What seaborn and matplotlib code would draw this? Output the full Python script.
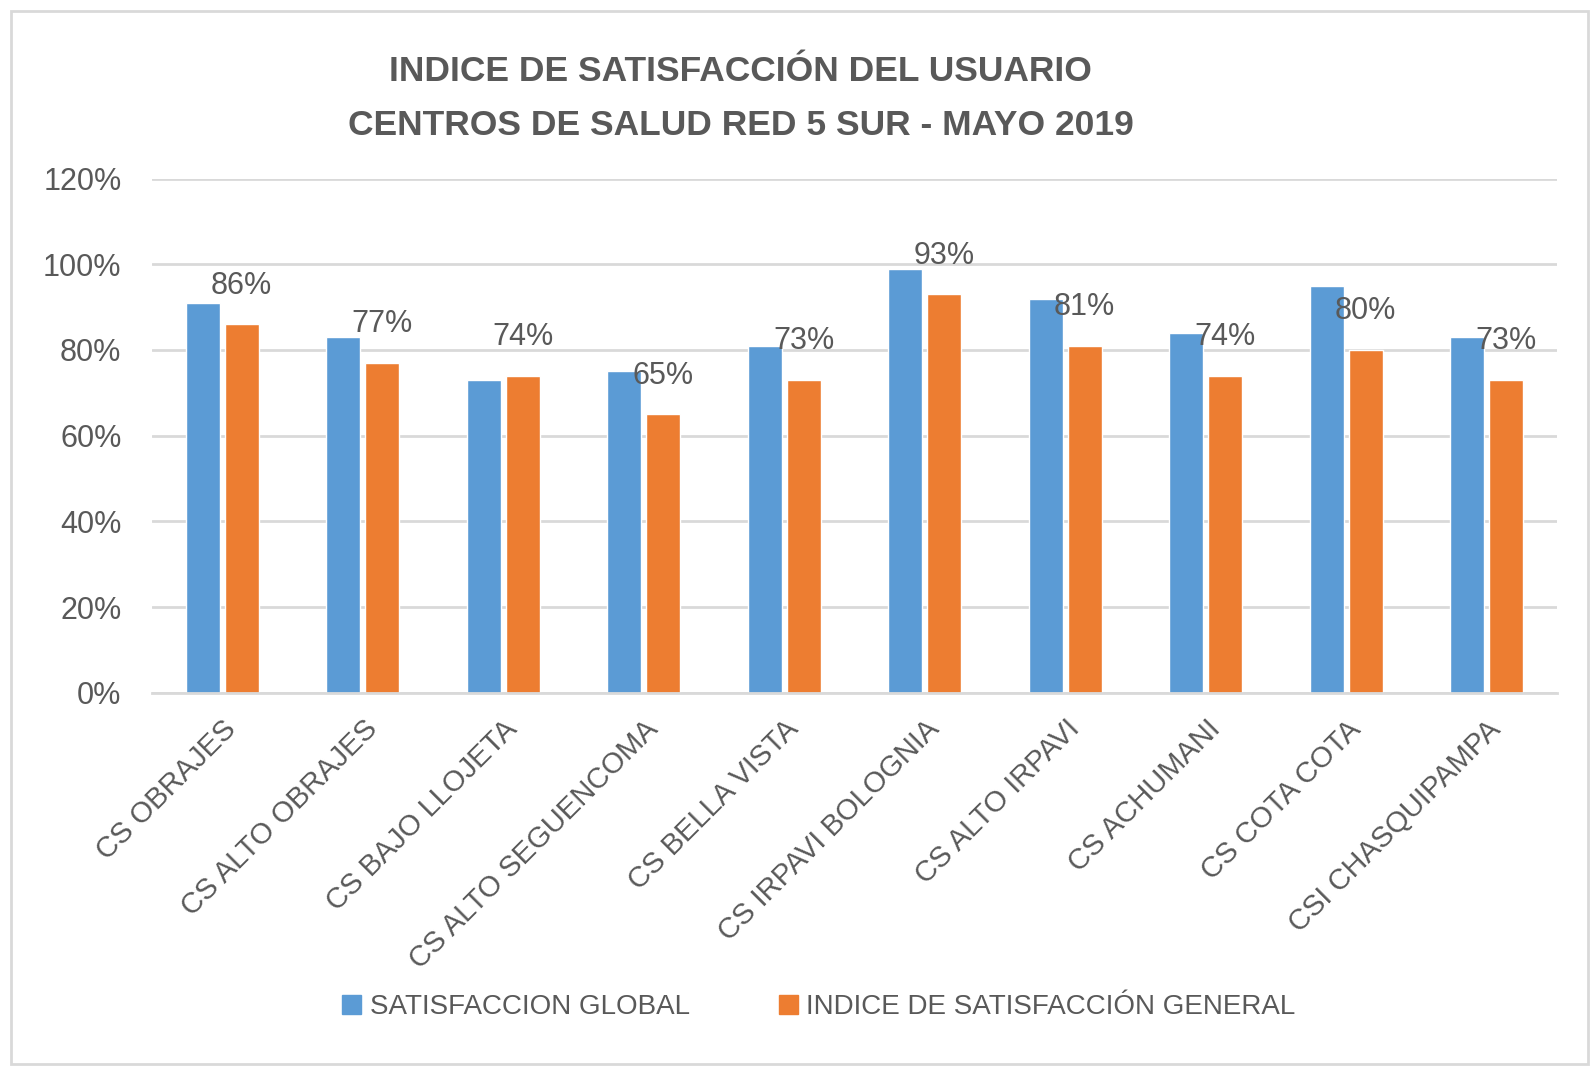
import pandas as pd
import seaborn as sns
import matplotlib.pyplot as plt
from matplotlib.patches import Rectangle
from matplotlib.ticker import PercentFormatter

# Values
centros = ['CS OBRAJES', 'CS ALTO OBRAJES', 'CS BAJO LLOJETA', 'CS ALTO SEGUENCOMA',
           'CS BELLA VISTA', 'CS IRPAVI BOLOGNIA', 'CS ALTO IRPAVI', 'CS ACHUMANI',
           'CS COTA COTA', 'CSI CHASQUIPAMPA']
satisfaccion_global = [91, 83, 73, 75, 81, 99, 92, 84, 95, 83]
indice_general = [86, 77, 74, 65, 73, 93, 81, 74, 80, 73]
series = ['SATISFACCION GLOBAL', 'INDICE DE SATISFACCIÓN GENERAL']

df = pd.DataFrame({
    'centro': centros * 2,
    'serie': [series[0]] * len(centros) + [series[1]] * len(centros),
    'valor': satisfaccion_global + indice_general,
})

sns.set_style('white')
plt.rcParams['font.family'] = ['Liberation Sans', 'DejaVu Sans']
gris = '#595959'

fig = plt.figure(figsize=(15.93, 10.69), dpi=100)
ax = fig.add_axes([0.0954, 0.352, 0.882, 0.481])

sns.barplot(data=df, x='centro', y='valor', hue='serie', ax=ax,
            palette=['#5B9BD5', '#ED7D31'], width=0.55, gap=0.12,
            saturation=1, legend=False)

ax.set_ylim(0, 120)
ax.set_yticks(range(0, 121, 20))
ax.yaxis.set_major_formatter(PercentFormatter(decimals=0))
ax.grid(axis='y', color='#D9D9D9', linewidth=2)
ax.set_axisbelow(True)
for s in ['top', 'right', 'left']:
    ax.spines[s].set_visible(False)
ax.spines['bottom'].set_color('#D9D9D9')
ax.spines['bottom'].set_linewidth(2)
ax.set_xlabel('')
ax.set_ylabel('')
ax.tick_params(axis='y', labelsize=22, labelcolor=gris, length=0, pad=22)
ax.tick_params(axis='x', labelsize=21, labelcolor=gris, length=0, pad=16)
plt.setp(ax.get_xticklabels(), rotation=45, ha='right', rotation_mode='anchor')

# data labels on the orange series
for bar, v in zip(ax.containers[1], indice_general):
    ax.annotate(f'{v}%', (bar.get_x() + bar.get_width() / 2, v),
                xytext=(0, 17), textcoords='offset points',
                ha='center', va='bottom', fontsize=22, color=gris)

fig.text(0.465, 0.933, 'INDICE DE SATISFACCIÓN DEL USUARIO', ha='center',
         va='center', fontsize=25.5, fontweight='bold', color=gris)
fig.text(0.465, 0.883, 'CENTROS DE SALUD RED 5 SUR - MAYO 2019', ha='center',
         va='center', fontsize=25.5, fontweight='bold', color=gris)

handles = [Rectangle((0, 0), 1, 1, color=c) for c in ['#5B9BD5', '#ED7D31']]
fig.legend(handles, series, loc='center', bbox_to_anchor=(0.514, 0.058), ncol=2,
           frameon=False, fontsize=20, labelcolor=gris, handlelength=0.7,
           handleheight=0.7, handletextpad=0.3, columnspacing=3.2)

fig.patches.append(Rectangle((0.007, 0.005), 0.99, 0.985, transform=fig.transFigure,
                             fill=False, edgecolor='#D9D9D9', linewidth=2))

fig.savefig('out.png', dpi=100)
